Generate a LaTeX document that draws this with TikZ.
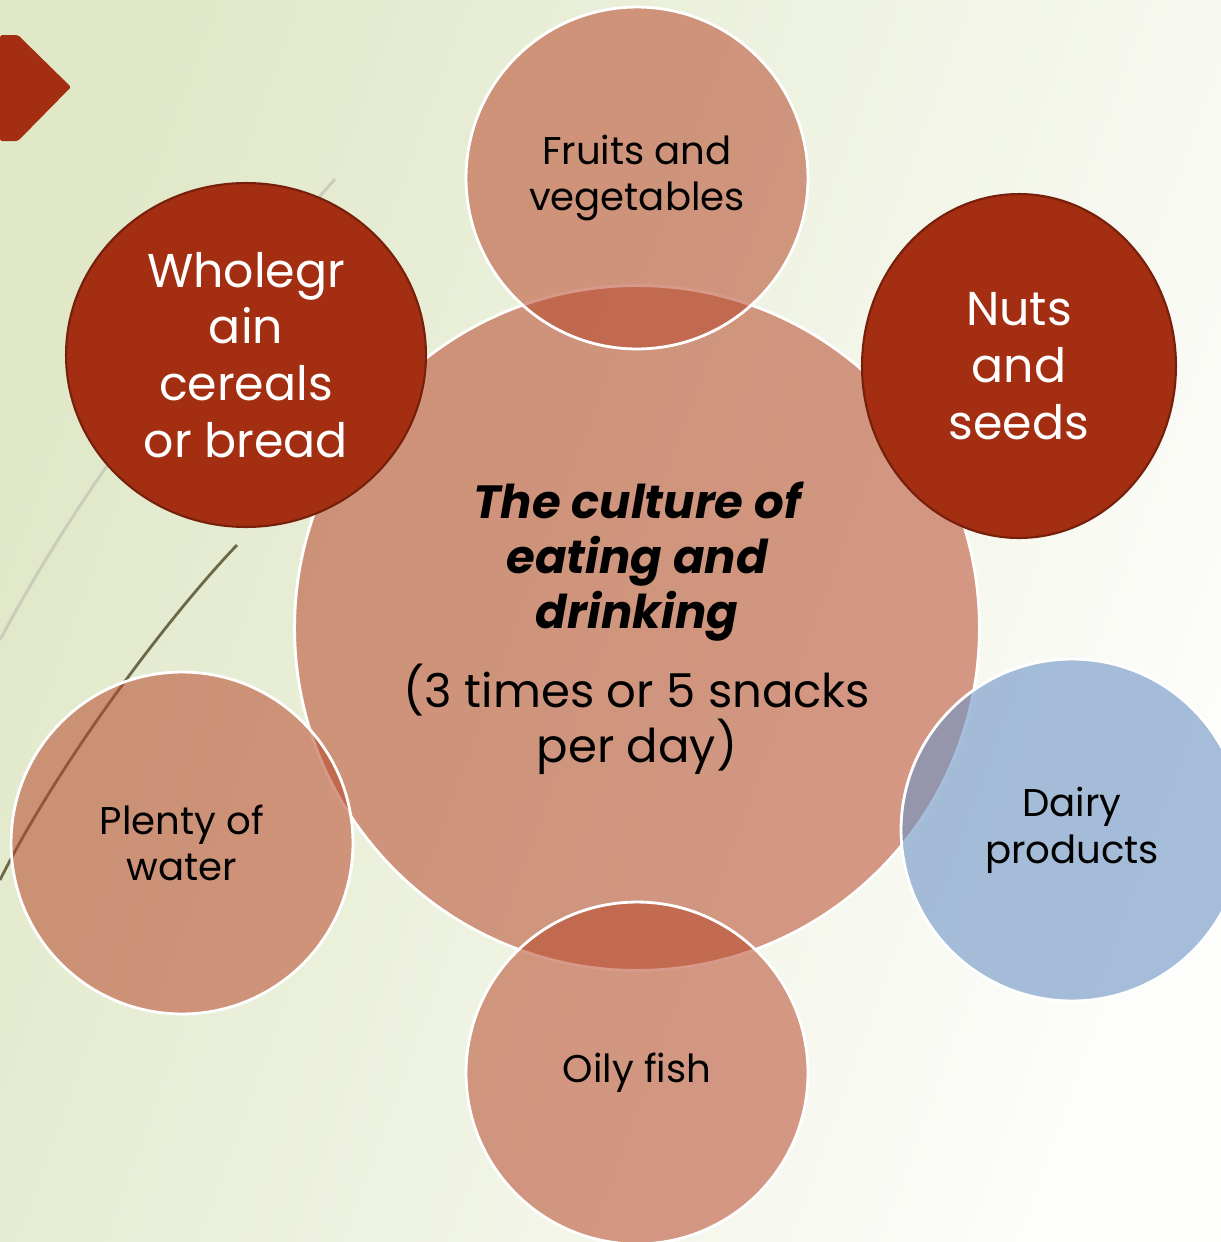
\documentclass[tikz,border=0pt]{standalone}
\usepackage{fontspec}
\setmainfont{Poppins}
\usetikzlibrary{positioning}
\usetikzlibrary{shapes.geometric}

\definecolor{bgleft}{RGB}{224,232,200}
\definecolor{bgright}{RGB}{253,253,251}
\definecolor{rust}{RGB}{163,46,18}
\definecolor{rustedge}{RGB}{118,32,12}
\definecolor{salmon}{RGB}{183,72,43}
\definecolor{milk}{RGB}{112,150,198}
\definecolor{grasslight}{RGB}{202,205,186}
\definecolor{grassdark}{RGB}{108,104,72}

\def\ds{6.84cm}
\def\dc{13.7cm}
\tikzset{
    softdisc/.style = {
        circle, draw=white, line width=1.6pt, fill=salmon, fill opacity=0.55, text opacity=1,
        minimum size=\ds, inner sep=0pt, align=center, font=\fontsize{22}{26.6}\selectfont
    },
    rustdisc/.style = {
        ellipse, draw=rustedge, line width=1.2pt, fill=rust, text=white, inner sep=0pt,
        minimum height=6.88cm, align=center, font=\fontsize{27}{32.3}\selectfont
    },
    milkdisc/.style = {
        softdisc, fill=milk, fill opacity=0.62
    },
}
\newcommand{\headline}[1]{{\bfseries\itshape #1}}

\begin{document}
\begin{tikzpicture}[x=0.02cm, y=-0.02cm]
        % Page and backdrop
        \useasboundingbox (0,0) rectangle (1221,1242);
        \clip (0,0) rectangle (1221,1242);
        \shade[left color=bgleft, right color=bgright, shading angle=70] (0,0) rectangle (1221,1242);

        % Grass strokes
        \draw[grasslight, line width=1.7pt] (335,179) .. controls (220,310) and (90,470) .. (0,640);
        \draw[grassdark, line width=1.6pt] (237,545) .. controls (170,615) and (60,760) .. (0,880);

        % Chevron
        \fill[rust, rounded corners=1pt] (0,35) -- (18,35) -- (71,87) -- (18,141) -- (0,141) -- cycle;

        % Place the discs
        \node[softdisc, minimum size=\dc, font=\fontsize{26.5}{31.3}\selectfont] (centre) at (637,628)
            {\headline{The culture of}\\ \headline{eating and}\\ \headline{drinking}\\[12pt]
             (3 times or 5 snacks\\ per day)};
        \node[softdisc] (fruits) at (637,178) {Fruits and\\ vegetables};
        \node[softdisc] (fish) at (637,1073) {Oily fish};
        \node[softdisc] (water) at (182,843) {Plenty of\\ water};
        \node[milkdisc] (dairy) at (1072,830) {Dairy\\ products};
        \node[rustdisc, minimum width=7.2cm] (grain) at (246,355) {Wholegr\\ ain\\ cereals\\ or bread};
        \node[rustdisc, minimum width=6.28cm] (nuts) at (1019,366) {Nuts\\ and\\ seeds};
\end{tikzpicture}
\end{document}
